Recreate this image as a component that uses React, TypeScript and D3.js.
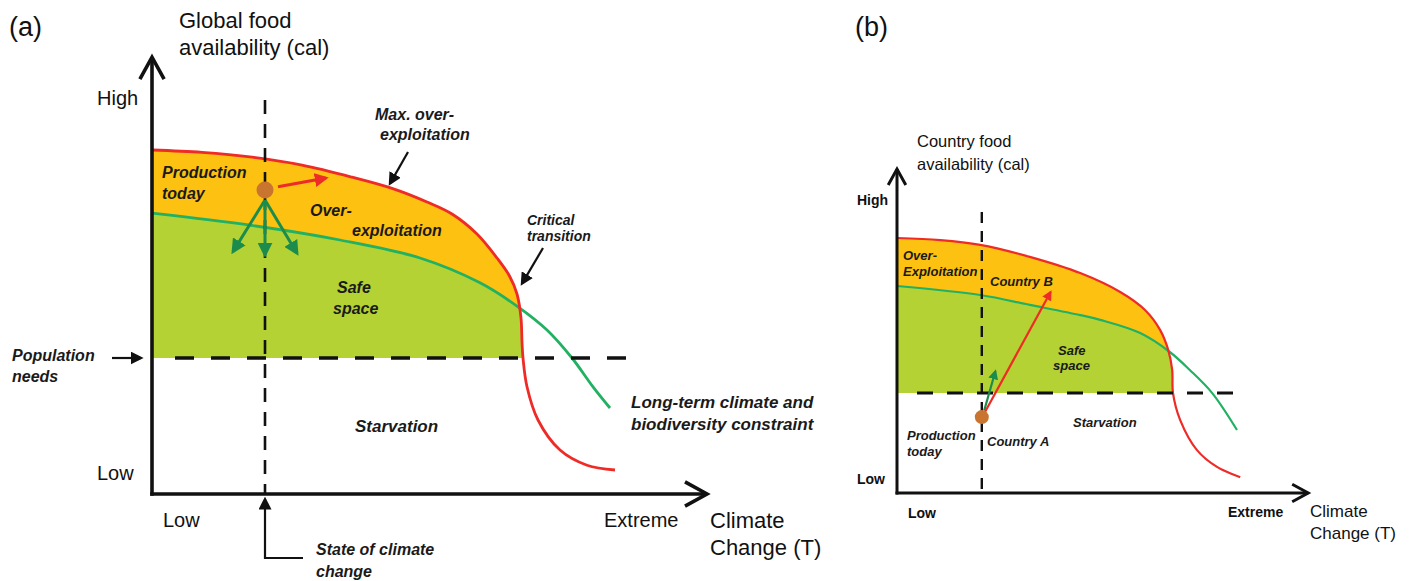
import * as d3 from 'd3';

type Pt = [number, number];

// (a) global food availability vs climate change, arbitrary units 0–110
const globalMaxExploitation: Pt[] = [
  [0, 86], [10, 85.4], [20, 84.2], [30, 82.2], [40, 79.2], [48, 76.4], [55, 73],
  [60, 70], [65, 65], [69, 59], [71.5, 54.5], [73, 50], [73.8, 44], [74, 38], [74.2, 34],
  [75, 26.8], [77.2, 18.5], [81.6, 11], [87, 7.2], [92.6, 6],
];
const globalLongTerm: Pt[] = [
  [0, 70.2], [19.6, 67.2], [37.6, 63.5], [53.6, 59], [65.6, 52.8], [73.2, 46.8],
  [79, 41], [84, 34], [88.2, 26.8], [91.6, 21.5],
];
const globalNeeds = 34;
const globalToday = 22.6;
const globalDot: Pt = [22.6, 76];
const globalPush: [Pt, Pt] = [[25.2, 76.8], [34.8, 79]];
const globalSafeMoves: [Pt, Pt][] = [
  [[22.6, 73.5], [16.2, 60.6]],
  [[22.6, 73.5], [22.6, 59.8]],
  [[22.6, 73.5], [29, 60.2]],
];
const globalPointers: [Pt, Pt][] = [
  [[51.2, 85.5], [47.6, 77.6]], // max. over-exploitation
  [[78.2, 61.5], [74, 52.6]], // critical transition
  [[-8, 34], [-2.2, 34]], // population needs
];
const globalStateBracket: Pt[] = [[30.2, -16], [22.6, -16], [22.6, -1.3]];

// (b) country food availability, x 0–103, y 0–108
const countryMaxExploitation: Pt[] = [
  [0, 85], [10.8, 84.3], [20.8, 82.7], [33.2, 78.7], [45.8, 73.3], [55.8, 67],
  [62, 61], [65.8, 54.3], [67.8, 47.7], [68.8, 41], [69, 33.3], [70.8, 24.3],
  [75, 14.3], [80, 8.7], [85.8, 5.3],
];
const countryLongTerm: Pt[] = [
  [0, 69], [20.8, 66], [33.2, 62.7], [45.8, 59.3], [50.8, 57.7], [60.8, 53.3],
  [68.2, 47], [73.2, 41], [78.8, 33.3], [85, 21],
];
const countryNeeds = 33.3;
const countryToday = 21.2;
const countryDot: Pt = [21.2, 25.3];
const countryToB: [Pt, Pt] = [[22, 27], [38.4, 67]];
const countryGreen: [Pt, Pt] = [[21.8, 27.5], [24.6, 40.6]];

const ORANGE = '#fdc112';
const LIME = '#b5d234';
const RED = '#ee2b26';
const TEAL = '#22b163';
const DARKGREEN = '#1b8c4b';
const DOT = '#c9742f';
const INK = '#111';
const FONT = '"Liberation Sans", Arial, sans-serif';

const smooth = d3.curveCatmullRom.alpha(0.5);

function Regions({ x, y, red, green, needs, id, width }: any) {
  const above = red.filter((d: Pt) => d[1] >= needs);
  const area = d3.area<Pt>()
    .x((d) => x(d[0]))
    .y0(y(needs))
    .y1((d) => y(Math.max(d[1], needs)))
    .curve(smooth);
  const line = d3.line<Pt>().x((d) => x(d[0])).y((d) => y(d[1])).curve(smooth);
  return (
    <g>
      <clipPath id={id}>
        <path d={area(above) || ''} />
      </clipPath>
      <path d={area(above) || ''} fill={ORANGE} />
      <path d={area(green) || ''} fill={LIME} clipPath={`url(#${id})`} />
      <path d={line(green) || ''} fill="none" stroke={TEAL} strokeWidth={width} />
      <path d={line(red) || ''} fill="none" stroke={RED} strokeWidth={width} />
    </g>
  );
}

function Axes({ x, y, xMax, yMax, w, head }: any) {
  const x0 = x(0), y0 = y(0), xt = x(xMax), yt = y(yMax);
  return (
    <g fill="none" stroke={INK} strokeWidth={w} strokeLinejoin="miter">
      <path d={`M${x0},${y0 + w / 2}V${yt}`} />
      <path d={`M${x0 - w / 2},${y0}H${xt}`} />
      <path d={`M${x0 - head * 0.55},${yt + head}L${x0},${yt}L${x0 + head * 0.55},${yt + head}`} />
      <path d={`M${xt - head},${y0 - head * 0.55}L${xt},${y0}L${xt - head},${y0 + head * 0.55}`} />
    </g>
  );
}

function Arrow({ x, y, seg, color, width, marker }: any) {
  const [[a, b], [c, d]] = seg;
  return (
    <line x1={x(a)} y1={y(b)} x2={x(c)} y2={y(d)} stroke={color} strokeWidth={width}
      markerEnd={`url(#${marker})`} />
  );
}

function Marker({ id, color, size }: any) {
  return (
    <marker id={id} viewBox="0 0 10 10" refX={8} refY={5} markerUnits="userSpaceOnUse"
      markerWidth={size} markerHeight={size} orient="auto">
      <path d="M0,0L10,5L0,10z" fill={color} />
    </marker>
  );
}

export default function App() {
  // panel (a)
  const ax = d3.scaleLinear().domain([0, 110]).range([152, 702]);
  const ay = d3.scaleLinear().domain([0, 110]).range([494, 54]);
  // panel (b)
  const bx = d3.scaleLinear().domain([0, 100]).range([897, 1297]);
  const by = d3.scaleLinear().domain([0, 100]).range([493, 193]);

  const note = { fontFamily: FONT, fontStyle: 'italic', fontWeight: 'bold', fill: '#1a1a1a' } as const;

  return (
    <div style={{ position: 'absolute', left: 0, top: 0 }}>
      <svg width={1409} height={581} style={{ display: 'block', background: '#fff' }}>
        <defs>
          <Marker id="hRed" color={RED} size={14} />
          <Marker id="hGreen" color={DARKGREEN} size={15} />
          <Marker id="hBlack" color={INK} size={13} />
          <Marker id="hRedSm" color={RED} size={10} />
          <Marker id="hGreenSm" color={DARKGREEN} size={10} />
        </defs>

        {/* ---------- (a) ---------- */}
        <Regions x={ax} y={ay} red={globalMaxExploitation} green={globalLongTerm}
          needs={globalNeeds} id="clipA" width={2.8} />
        <line x1={ax(4.6)} x2={ax(94.8)} y1={ay(globalNeeds)} y2={ay(globalNeeds)}
          stroke={INK} strokeWidth={3.5} strokeDasharray="19 17" />
        <line x1={ax(globalToday)} x2={ax(globalToday)} y1={ay(98.5)} y2={ay(0)}
          stroke={INK} strokeWidth={2.6} strokeDasharray="14 10" />
        <Axes x={ax} y={ay} xMax={111} yMax={109.2} w={3.6} head={22} />
        {globalSafeMoves.map((s, i) => (
          <Arrow key={i} x={ax} y={ay} seg={s} color={DARKGREEN} width={3} marker="hGreen" />
        ))}
        <Arrow x={ax} y={ay} seg={globalPush} color={RED} width={3} marker="hRed" />
        <circle cx={ax(globalDot[0])} cy={ay(globalDot[1])} r={8.5} fill={DOT} />
        {globalPointers.map((s, i) => (
          <Arrow key={i} x={ax} y={ay} seg={s} color={INK} width={2.2} marker="hBlack" />
        ))}
        <path d={d3.line<Pt>().x((d) => ax(d[0])).y((d) => ay(d[1]))(globalStateBracket) || ''}
          fill="none" stroke={INK} strokeWidth={2.2} markerEnd="url(#hBlack)" />

        <g fontFamily={FONT} fill="#111">
          <text x={9} y={36} fontSize={27}>(a)</text>
          <text x={179} y={28} fontSize={22}>Global food</text>
          <text x={179} y={55} fontSize={22}>availability (cal)</text>
          <text x={97} y={105} fontSize={20}>High</text>
          <text x={97} y={480} fontSize={20}>Low</text>
          <text x={163} y={527} fontSize={20}>Low</text>
          <text x={604} y={527} fontSize={20}>Extreme</text>
          <text x={710} y={528} fontSize={22}>Climate</text>
          <text x={710} y={555} fontSize={22}>Change (T)</text>
        </g>
        <g {...note} fontSize={16}>
          <text x={375} y={120}>Max. over-</text>
          <text x={380} y={140}>exploitation</text>
          <text x={162} y={178}>Production</text>
          <text x={162} y={199}>today</text>
          <text x={310} y={216}>Over-</text>
          <text x={352} y={236}>exploitation</text>
          <text x={337} y={293}>Safe</text>
          <text x={333} y={314}>space</text>
          <text x={12} y={361}>Population</text>
          <text x={12} y={382}>needs</text>
          <text x={355} y={432} fontSize={17}>Starvation</text>
          <text x={631} y={408} fontSize={17}>Long-term climate and</text>
          <text x={631} y={430} fontSize={17}>biodiversity constraint</text>
          <text x={316} y={555}>State of climate</text>
          <text x={316} y={577}>change</text>
          <text x={527} y={225} fontSize={14}>Critical</text>
          <text x={527} y={241} fontSize={14}>transition</text>
        </g>

        {/* ---------- (b) ---------- */}
        <Regions x={bx} y={by} red={countryMaxExploitation} green={countryLongTerm}
          needs={countryNeeds} id="clipB" width={2.2} />
        <line x1={bx(5)} x2={bx(87)} y1={by(countryNeeds)} y2={by(countryNeeds)}
          stroke={INK} strokeWidth={3} strokeDasharray="16 14" />
        <line x1={bx(countryToday)} x2={bx(countryToday)} y1={by(93.7)} y2={by(0)}
          stroke={INK} strokeWidth={2.4} strokeDasharray="11 8" />
        <Axes x={bx} y={by} xMax={102.8} yMax={108} w={3} head={16} />
        <Arrow x={bx} y={by} seg={countryGreen} color={DARKGREEN} width={2.2} marker="hGreenSm" />
        <Arrow x={bx} y={by} seg={countryToB} color={RED} width={2.2} marker="hRedSm" />
        <circle cx={bx(countryDot[0])} cy={by(countryDot[1])} r={7} fill={DOT} />

        <g fontFamily={FONT} fill="#111">
          <text x={855} y={36} fontSize={27}>(b)</text>
          <text x={917} y={147} fontSize={16.5}>Country food</text>
          <text x={917} y={170} fontSize={16.5}>availability (cal)</text>
          <text x={857} y={205} fontSize={14} fontWeight="bold">High</text>
          <text x={857} y={484} fontSize={14} fontWeight="bold">Low</text>
          <text x={908} y={518} fontSize={14} fontWeight="bold">Low</text>
          <text x={1228} y={517} fontSize={14} fontWeight="bold">Extreme</text>
          <text x={1310} y={517} fontSize={17}>Climate</text>
          <text x={1310} y={539} fontSize={17}>Change (T)</text>
        </g>
        <g {...note} fontSize={13}>
          <text x={903} y={260}>Over-</text>
          <text x={903} y={276}>Exploitation</text>
          <text x={990} y={286}>Country B</text>
          <text x={1058} y={355}>Safe</text>
          <text x={1053} y={370}>space</text>
          <text x={1073} y={427}>Starvation</text>
          <text x={907} y={440}>Production</text>
          <text x={907} y={456}>today</text>
          <text x={987} y={446}>Country A</text>
        </g>
      </svg>
    </div>
  );
}
